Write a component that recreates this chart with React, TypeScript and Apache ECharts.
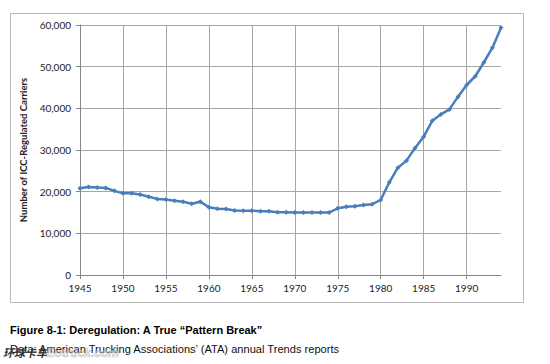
import React, { useEffect, useRef } from "react";
import * as echarts from "echarts";

const years: string[] = [
  "1945","1946","1947","1948","1949","1950","1951","1952","1953","1954",
  "1955","1956","1957","1958","1959","1960","1961","1962","1963","1964",
  "1965","1966","1967","1968","1969","1970","1971","1972","1973","1974",
  "1975","1976","1977","1978","1979","1980","1981","1982","1983","1984",
  "1985","1986","1987","1988","1989","1990","1991","1992","1993","1994",
];

const carriers: number[] = [
  20800, 21100, 21000, 20900, 20200, 19600, 19600, 19300, 18800, 18250,
  18100, 17800, 17600, 17100, 17600, 16250, 15900, 15850, 15500, 15400,
  15450, 15300, 15300, 15050, 15050, 15000, 15000, 15000, 15000, 15000,
  16000, 16400, 16500, 16800, 17000, 18000, 22250, 25750, 27450, 30500,
  33200, 37000, 38550, 39750, 42800, 45600, 47700, 51000, 54550, 59350,
];

const yAxisTitle = "Number of ICC-Regulated Carriers";
const captionTitle = "Figure 8-1: Deregulation: A True \u201cPattern Break\u201d";
const captionSource = "Data: American Trucking Associations\u2019 (ATA) annual Trends reports";
const watermarkCn = "环球卡车";
const watermarkEn = "Eotruck.com";

export default function App() {
  const ref = useRef<HTMLDivElement>(null);

  useEffect(() => {
    if (!ref.current) return;
    const chart = echarts.init(ref.current, null, { renderer: "svg" });
    const every5 = (idx: number) => idx % 5 === 0;
    chart.setOption({
      animation: false,
      backgroundColor: "#ffffff",
      grid: { left: 80, top: 25, right: 49, bottom: 89, containLabel: false },
      xAxis: {
        type: "category",
        data: years,
        boundaryGap: false,
        axisLine: { show: true, lineStyle: { color: "#868686", width: 1 } },
        axisTick: { show: true, interval: every5, length: 4, lineStyle: { color: "#868686" } },
        axisLabel: {
          interval: every5,
          margin: 8,
          color: "#222",
          fontFamily: "Lato",
          fontSize: 10,
        },
        splitLine: { show: true, interval: every5, lineStyle: { color: "#a6a6a6", width: 1 } },
      },
      yAxis: {
        type: "value",
        min: 0,
        max: 60000,
        interval: 10000,
        axisLine: { show: true, lineStyle: { color: "#868686", width: 1 } },
        axisTick: { show: true, length: 4, lineStyle: { color: "#868686" } },
        axisLabel: {
          margin: 9,
          color: "#222",
          fontFamily: "Lato",
          fontSize: 10,
          formatter: (v: number) => v.toLocaleString("en-US"),
        },
        splitLine: { show: true, lineStyle: { color: "#a6a6a6", width: 1 } },
        name: yAxisTitle,
        nameLocation: "middle",
        nameGap: 43,
        nameRotate: 90,
        nameTextStyle: { fontFamily: "Lato", fontWeight: "bold", fontSize: 9.5, color: "#222" },
      },
      series: [
        {
          type: "line",
          data: carriers,
          symbol: "diamond",
          symbolSize: 5,
          lineStyle: { color: "#4a7ebb", width: 2.5 },
          itemStyle: { color: "#4a7ebb" },
        },
      ],
      graphic: [
        {
          type: "rect",
          shape: { x: 10.5, y: 13.5, width: 513, height: 289 },
          style: { fill: "none", stroke: "#b8b8b8", lineWidth: 1 },
          silent: true,
        },
        {
          type: "text",
          left: 10,
          top: 324,
          style: {
            text: captionTitle,
            font: "bold 11px 'Liberation Sans', Arial, sans-serif",
            fill: "#000",
          },
        },
        {
          type: "text",
          left: 10,
          top: 343,
          style: {
            text: captionSource,
            font: "11.1px 'Liberation Sans', Arial, sans-serif",
            fill: "#111",
          },
        },
        {
          type: "text",
          left: 3,
          top: 346,
          style: {
            text: watermarkCn,
            font: "italic bold 11px 'Noto Sans CJK SC', sans-serif",
            fill: "#333",
          },
        },
        {
          type: "text",
          left: 46,
          top: 347,
          style: {
            text: watermarkEn,
            font: "italic bold 12px 'Liberation Sans', Arial, sans-serif",
            fill: "rgba(200,200,200,0.55)",
            stroke: "rgba(150,150,150,0.5)",
            lineWidth: 0.6,
          },
        },
      ],
    });
    return () => chart.dispose();
  }, []);

  return (
    <div
      ref={ref}
      style={{ position: "fixed", left: 0, top: 0, width: 550, height: 364, background: "#fff" }}
    />
  );
}
